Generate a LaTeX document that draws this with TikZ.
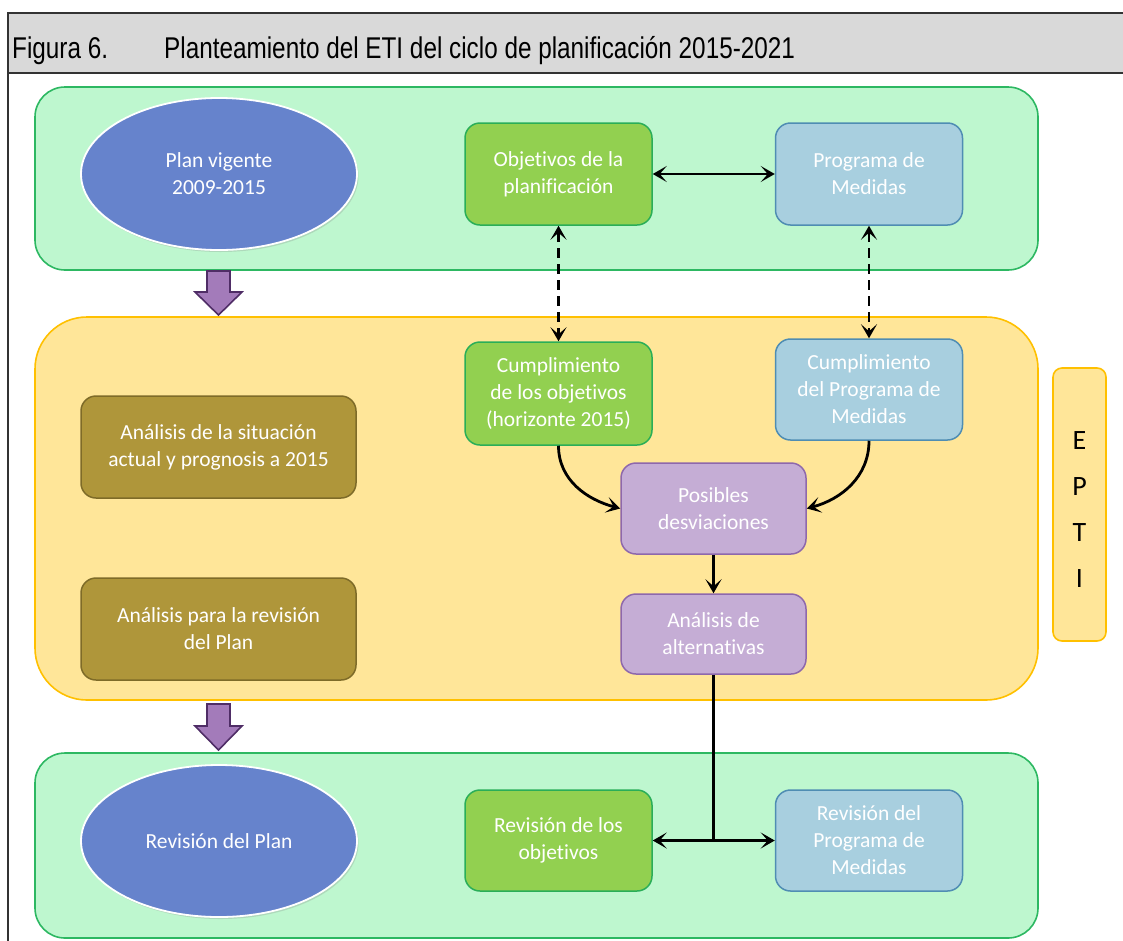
\documentclass[tikz,border=0pt]{standalone}
\usepackage{fontspec}
\usepackage{graphicx}
\setmainfont[Ligatures=NoCommon]{Carlito}
\newfontfamily\headfont{Liberation Sans}
\usetikzlibrary{arrows.meta,shapes.geometric,shadows}

\definecolor{headgray}{HTML}{D9D9D9}
\definecolor{frameline}{HTML}{333333}
\definecolor{mintfill}{HTML}{BEF7CF}
\definecolor{mintline}{HTML}{2DB862}
\definecolor{sandfill}{HTML}{FFE699}
\definecolor{sandline}{HTML}{FFC000}
\definecolor{ovalfill}{HTML}{6683CC}
\definecolor{leaffill}{HTML}{92D050}
\definecolor{leafline}{HTML}{2AAE58}
\definecolor{skyfill}{HTML}{A8CFDF}
\definecolor{skyline}{HTML}{4F8DB3}
\definecolor{olivefill}{HTML}{AF963A}
\definecolor{oliveline}{HTML}{7E6B28}
\definecolor{lilacfill}{HTML}{C5ADD5}
\definecolor{lilacline}{HTML}{8E68AC}
\definecolor{plumfill}{HTML}{A37BBA}
\definecolor{plumline}{HTML}{4F2D66}

\newcommand{\bodyfont}{\fontsize{21.5pt}{27pt}\selectfont}
\newcommand{\headsize}{\headfont\fontsize{30pt}{34pt}\selectfont}

\tikzset{
  panel/.style={line width=1.6pt, inner sep=0pt},
  greenpanel/.style={panel, draw=mintline, fill=mintfill, rounded corners=30pt},
  yellowpanel/.style={panel, draw=sandline, fill=sandfill, rounded corners=52pt},
  txt/.style={font=\bodyfont, text=white, align=center, inner sep=0pt},
  card/.style={txt, rounded corners=15pt, line width=1.5pt, minimum width=187pt, minimum height=102pt},
  leafbox/.style={card, draw=leafline, fill=leaffill},
  skybox/.style={card, draw=skyline, fill=skyfill},
  olivebox/.style={card, draw=oliveline, fill=olivefill, minimum width=275pt},
  lilacbox/.style={card, draw=lilacline, fill=lilacfill, minimum width=185pt},
  oval/.style={txt, ellipse, draw=white, line width=1.8pt, fill=ovalfill,
    minimum width=276pt, minimum height=152pt,
    drop shadow={opacity=0.25, shadow xshift=1.5pt, shadow yshift=-2pt}},
  conn/.style={line width=2.8pt, black},
  head/.tip={Stealth[length=14pt, width=16pt, inset=7pt]},
  blockarrow/.style={fill=plumfill, draw=plumline, line width=1.6pt, line join=miter},
}

\begin{document}
\begin{tikzpicture}[x=1pt, y=-1pt]
\useasboundingbox (0,0) rectangle (1123,940);

% heading band and frame
\fill[headgray] (8,13) rectangle (1125,73);
\draw[frameline, line width=2pt] (1125,13) -- (8,13) -- (8,942);
\draw[frameline, line width=2pt] (8,73) -- (1125,73);
\node[anchor=base west, inner sep=0pt] (fig) at (12,58)
  {\headsize\scalebox{0.81}[1]{Figura 6.}};
\node[anchor=base west, inner sep=0pt] (title) at (164,58)
  {\headsize\scalebox{0.81}[1]{Planteamiento del ETI del ciclo de planificación 2015-2021}};

% three stage panels
\node[greenpanel, minimum width=1003pt, minimum height=183pt] (toppanel) at (536.5,178.5) {};
\node[yellowpanel, minimum width=1003pt, minimum height=383pt] (midpanel) at (536.5,508.5) {};
\node[greenpanel, minimum width=1003pt, minimum height=185pt] (botpanel) at (536.5,845.5) {};

% block arrows between stages
\draw[blockarrow] (207,271) -- (230,271) -- (230,292) -- (242,292) -- (218.5,315)
  -- (195,292) -- (207,292) -- cycle;
\draw[blockarrow] (207,704) -- (230,704) -- (230,726) -- (242,726) -- (218.5,750)
  -- (195,726) -- (207,726) -- cycle;

% side label
\node[panel, draw=sandline, fill=sandfill, rounded corners=9pt, minimum width=53pt,
  minimum height=273pt] (epti) at (1079.5,504.5) {};
\node[font=\fontsize{28pt}{46pt}\selectfont, align=center, inner sep=0pt] (eptitext)
  at (1079.5,510) {E\\P\\T\\I};

% top stage
\node[oval] (plan) at (219,174) {Plan vigente\\2009-2015};
\node[leafbox] (obj) at (558.5,174) {Objetivos de la\\planificación};
\node[skybox] (pdm) at (869,174) {Programa de\\Medidas};

% middle stage
\node[leafbox, minimum height=103pt] (cobj) at (558.5,393.5) {Cumplimiento\\de los objetivos\\(horizonte 2015)};
\node[skybox, minimum height=101pt] (cpdm) at (869,389.5) {Cumplimiento\\del Programa de\\Medidas};
\node[olivebox] (asit) at (218.5,447) {Análisis de la situación\\actual y prognosis a 2015};
\node[olivebox] (arev) at (218.5,629) {Análisis para la revisión\\del Plan};
\node[lilacbox, minimum height=91pt] (pos) at (713.5,508.5) {Posibles\\desviaciones};
\node[lilacbox, minimum height=80pt] (alt) at (713.5,634) {Análisis de\\alternativas};

% bottom stage
\node[oval] (rplan) at (219,841) {Revisión del Plan};
\node[leafbox, minimum height=101pt] (robj) at (558.5,840.5) {Revisión de los\\objetivos};
\node[skybox, minimum height=101pt] (rpdm) at (869,840.5) {Revisión del\\Programa de\\Medidas};

% connectors
\draw[conn, head-head] (obj) -- (pdm);
\draw[conn, dash pattern=on 10pt off 6pt, head-head] (obj.south) -- (cobj.north);
\draw[conn, dash pattern=on 10pt off 6pt, head-head] (pdm.south) -- (cpdm.north);
\draw[conn, -head] (cobj.south) to[out=-90, in=165] (pos.west);
\draw[conn, -head] (cpdm.south) to[out=-90, in=15] (pos.east);
\draw[conn, -head] (pos) -- (alt);
\coordinate (split) at (alt.south |- robj.east);
\draw[conn] (alt.south) -- (split);
\draw[conn, -head] (split) -- (robj.east);
\draw[conn, -head] (split) -- (rpdm.west);
\end{tikzpicture}
\end{document}
